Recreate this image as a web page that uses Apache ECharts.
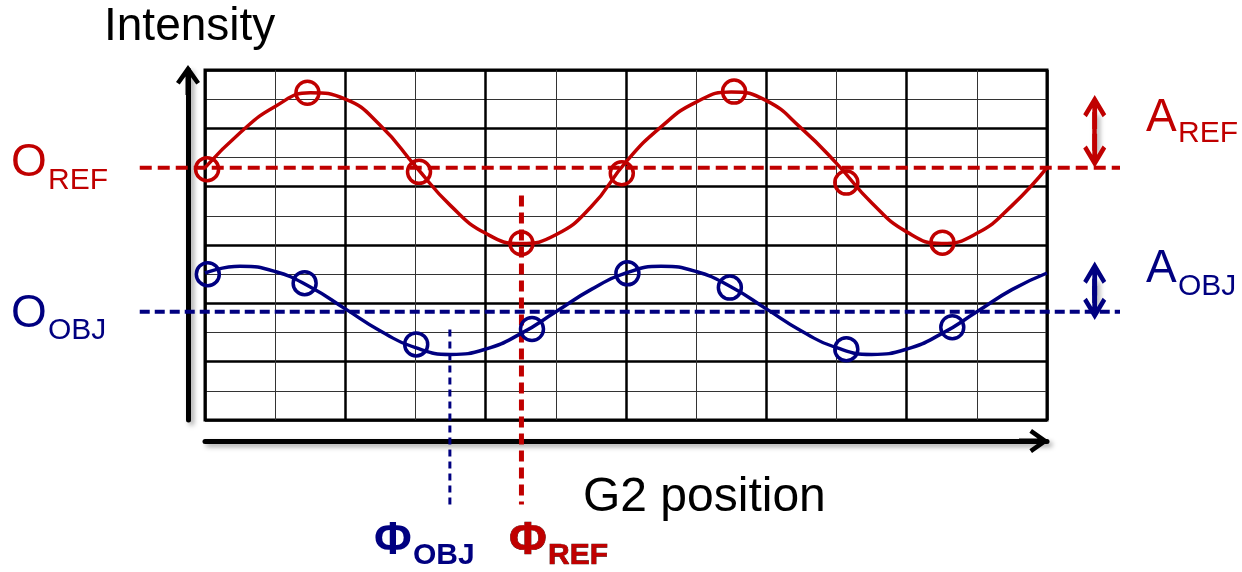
<!DOCTYPE html>
<html><head><meta charset="utf-8">
<script src="https://cdn.jsdelivr.net/npm/echarts@6/dist/echarts.min.js"></script>
<style>html,body{margin:0;padding:0;background:#fff}#c{width:1242px;height:572px}</style>
</head><body><div id="c"></div>
<script>
// ---- data ----
const curveX   = [0,0.5,1,1.5,2,2.5,3,3.5,4,4.5,5,5.5,6,6.5,7,7.5,8,8.5,9,9.5,10,10.5,11,11.5,12];
const refCurve = [8.65,9.85,10.75,11.22,11.0,10.1,8.7,7.35,6.4,6.05,6.35,7.3,8.85,10.05,10.9,11.25,10.95,10.0,8.8,7.45,6.45,6.05,6.4,7.35,8.65];
const objCurve = [5.04,5.27,5.09,4.56,3.81,3.05,2.48,2.25,2.43,2.96,3.71,4.47,5.04,5.27,5.09,4.56,3.81,3.05,2.48,2.25,2.43,2.96,3.71,4.47,5.04];
const refPointX = [0.03,1.46,3.05,4.51,5.94,7.54,9.14,10.51];
const refPointY = [8.6,11.22,8.51,6.06,8.46,11.26,8.14,6.08];
const objPointX = [0.04,1.42,3.01,4.66,6.02,7.48,9.14,10.65];
const objPointY = [5.0,4.69,2.59,3.12,5.03,4.54,2.43,3.18];
const refOffset = 8.65, objOffset = 3.71;
const offsetLineX = [-0.93, 13.04];
const refPhase = 4.51, objPhase = 3.49;
const refPhaseY = [7.7, -2.9], objPhaseY = [3.1, -2.9];
const ampX = 12.68;
const refAmpY = [11.14, 8.65], objAmpY = [5.43, 3.43];
const xTicks = [0, 12], yTicks = [0, 12];

const RED = '#C00000', BLUE = '#000080';
const FONT = "'Liberation Sans', Arial, sans-serif";
const ARROW = 'path://M12,0 L24,17 L20.3,19.6 L14.5,11.4 L14.5,30 L9.5,30 L9.5,11.4 L3.7,19.6 L0,17 Z';
const AMP_H = 34;
const arrowUnits = (AMP_H / 2) / 29.1667; // half of symbol height in y units

const zip = (a, b) => a.map((v, i) => [v, b[i]]);
const shadow = { shadowBlur: 5, shadowColor: 'rgba(0,0,0,0.35)', shadowOffsetX: 3, shadowOffsetY: 3 };

const chart = echarts.init(document.getElementById('c'), null, { renderer: 'canvas' });
chart.setOption({
  animation: false,
  backgroundColor: '#fff',
  grid: [
    { left: 205, right: 195, top: 70, bottom: 152, show: true, borderColor: '#000', borderWidth: 3, backgroundColor: 'transparent' },
    { left: 134.83, right: 110.8, top: 70, bottom: 64.5, show: false }
  ],
  xAxis: [
    { type: 'value', gridIndex: 0, min: xTicks[0], max: xTicks[1], interval: 2, position: 'bottom', offset: 21,
      axisLine: { show: true, onZero: false, symbol: ['none', ARROW], symbolSize: [24, 30], symbolOffset: [0, -13],
        lineStyle: Object.assign({ color: '#000', width: 5 }, shadow) },
      axisTick: { show: false }, axisLabel: { show: false },
      splitLine: { show: true, lineStyle: { color: '#000', width: 2.5 } },
      minorTick: { show: false, splitNumber: 2 },
      minorSplitLine: { show: true, lineStyle: { color: '#333', width: 1 } } },
    { type: 'value', gridIndex: 1, min: -1, max: 13.2, show: false }
  ],
  yAxis: [
    { type: 'value', gridIndex: 0, min: yTicks[0], max: yTicks[1], interval: 2, position: 'left', offset: 17,
      axisLine: { show: true, onZero: false, symbol: ['none', ARROW], symbolSize: [24, 30], symbolOffset: [0, -10],
        lineStyle: Object.assign({ color: '#000', width: 5 }, shadow) },
      axisTick: { show: false }, axisLabel: { show: false },
      splitLine: { show: true, lineStyle: { color: '#000', width: 2.5 } },
      minorTick: { show: false, splitNumber: 2 },
      minorSplitLine: { show: true, lineStyle: { color: '#333', width: 1 } } },
    { type: 'value', gridIndex: 1, min: -3, max: 12, show: false }
  ],
  series: [
    { type: 'line', xAxisIndex: 1, yAxisIndex: 1, data: zip(offsetLineX, [refOffset, refOffset]), showSymbol: false, z: 3,
      lineStyle: { color: RED, width: 4, type: [12, 6] } },
    { type: 'line', xAxisIndex: 1, yAxisIndex: 1, data: zip(offsetLineX, [objOffset, objOffset]), showSymbol: false, z: 3,
      lineStyle: { color: BLUE, width: 4, type: [10, 5] } },
    { type: 'line', xAxisIndex: 1, yAxisIndex: 1, data: zip([refPhase, refPhase], refPhaseY), showSymbol: false, z: 3,
      lineStyle: { color: RED, width: 5, type: [11, 6] } },
    { type: 'line', xAxisIndex: 1, yAxisIndex: 1, data: zip([objPhase, objPhase], objPhaseY), showSymbol: false, z: 3,
      lineStyle: { color: BLUE, width: 3, type: [7, 5] } },
    { type: 'line', xAxisIndex: 0, yAxisIndex: 0, data: zip(curveX, refCurve), smooth: true, showSymbol: false, z: 4,
      lineStyle: { color: RED, width: 3.5 } },
    { type: 'line', xAxisIndex: 0, yAxisIndex: 0, data: zip(curveX, objCurve), smooth: true, showSymbol: false, z: 4,
      lineStyle: { color: BLUE, width: 3.5 } },
    { type: 'scatter', xAxisIndex: 0, yAxisIndex: 0, data: zip(refPointX, refPointY), symbol: 'circle', symbolSize: 23, z: 5,
      itemStyle: { color: 'rgba(0,0,0,0)', borderColor: RED, borderWidth: 3.5, opacity: 1 } },
    { type: 'scatter', xAxisIndex: 0, yAxisIndex: 0, data: zip(objPointX, objPointY), symbol: 'circle', symbolSize: 23, z: 5,
      itemStyle: { color: 'rgba(0,0,0,0)', borderColor: BLUE, borderWidth: 3.5, opacity: 1 } },
    { type: 'line', xAxisIndex: 1, yAxisIndex: 1, data: [], z: 6,
      markLine: { silent: true, symbol: [ARROW, ARROW], symbolSize: [23, AMP_H], label: { show: false }, animation: false,
        lineStyle: Object.assign({ color: RED, width: 4.5, type: 'solid' }, shadow),
        data: [[{ coord: [ampX, refAmpY[0] - arrowUnits] }, { coord: [ampX, refAmpY[1] + arrowUnits] }]] } },
    { type: 'line', xAxisIndex: 1, yAxisIndex: 1, data: [], z: 6,
      markLine: { silent: true, symbol: [ARROW, ARROW], symbolSize: [23, AMP_H], label: { show: false }, animation: false,
        lineStyle: Object.assign({ color: BLUE, width: 4.5, type: 'solid' }, shadow),
        data: [[{ coord: [ampX, objAmpY[0] - arrowUnits] }, { coord: [ampX, objAmpY[1] + arrowUnits] }]] } }
  ],
  graphic: [
    { type: 'text', x: 104, y: 27, style: { text: 'Intensity', fontSize: 46, fontFamily: FONT, fill: '#000', verticalAlign: 'middle' } },
    { type: 'text', x: 583, y: 498, style: { text: 'G2 position', fontSize: 48, fontFamily: FONT, fill: '#000', verticalAlign: 'middle' } },
    { type: 'text', x: 11, y: 163, style: { text: 'O', fontSize: 46, fontFamily: FONT, fill: RED, verticalAlign: 'middle' } },
    { type: 'text', x: 48, y: 181, style: { text: 'REF', fontSize: 30, fontFamily: FONT, fill: RED, verticalAlign: 'middle' } },
    { type: 'text', x: 11, y: 314, style: { text: 'O', fontSize: 46, fontFamily: FONT, fill: BLUE, verticalAlign: 'middle' } },
    { type: 'text', x: 48, y: 331, style: { text: 'OBJ', fontSize: 30, fontFamily: FONT, fill: BLUE, verticalAlign: 'middle' } },
    { type: 'text', x: 1146, y: 118, style: { text: 'A', fontSize: 46, fontFamily: FONT, fill: RED, verticalAlign: 'middle' } },
    { type: 'text', x: 1178, y: 134, style: { text: 'REF', fontSize: 30, fontFamily: FONT, fill: RED, verticalAlign: 'middle' } },
    { type: 'text', x: 1146, y: 269, style: { text: 'A', fontSize: 46, fontFamily: FONT, fill: BLUE, verticalAlign: 'middle' } },
    { type: 'text', x: 1178, y: 287, style: { text: 'OBJ', fontSize: 30, fontFamily: FONT, fill: BLUE, verticalAlign: 'middle' } },
    { type: 'text', x: 374, y: 541, style: { text: 'Φ', fontSize: 46, fontWeight: 'bold', fontFamily: FONT, fill: BLUE, verticalAlign: 'middle' } },
    { type: 'text', x: 413, y: 556, style: { text: 'OBJ', fontSize: 30, fontWeight: 'bold', fontFamily: FONT, fill: BLUE, verticalAlign: 'middle' } },
    { type: 'text', x: 509, y: 541, style: { text: 'Φ', fontSize: 46, fontWeight: 'bold', fontFamily: FONT, fill: RED, stroke: '#4a0000', lineWidth: 0.7, verticalAlign: 'middle' } },
    { type: 'text', x: 548, y: 556, style: { text: 'REF', fontSize: 30, fontWeight: 'bold', fontFamily: FONT, fill: RED, stroke: '#4a0000', lineWidth: 0.7, verticalAlign: 'middle' } }
  ]
});
</script>
</body></html>
